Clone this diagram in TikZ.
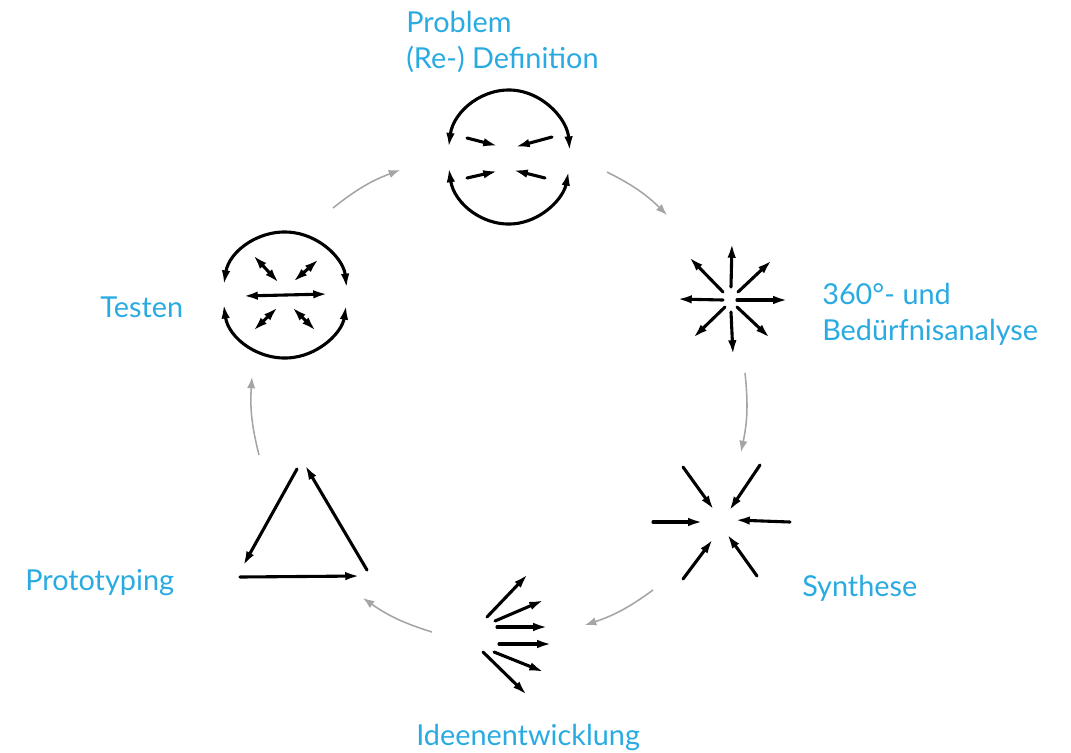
\documentclass[tikz,border=0pt]{standalone}
\usepackage{fontspec}
\setmainfont{Lato}
\usetikzlibrary{arrows.meta}
\usetikzlibrary{positioning}
\definecolor{labelblue}{RGB}{41,171,226}
\definecolor{cyclegrey}{RGB}{165,165,165}

\begin{document}
\begin{tikzpicture}[x=0.025cm, y=0.025cm,
        >={Latex[length=10.5pt,width=6pt]},
        sketch/.style={line width=2.2pt, line cap=round},
        cycle/.style={cyclegrey, line width=1.1pt, -{Latex[length=8pt,width=6pt]}},
        phase/.style={labelblue, inner sep=0pt, align=left, anchor=base west,
            font=\fontsize{20.5}{25}\selectfont}]
            \useasboundingbox (0,0) rectangle (1071,-752);

            % labels
            \node[phase] (problem) at (406,-68) {Problem\\(Re-) Definition};
            \node[phase] (analyse) at (822,-340) {360°- und\\Bedürfnisanalyse};
            \node[phase] (synthese) at (802,-596) {Synthese};
            \node[phase] (ideen) at (416,-745) {Ideenentwicklung};
            \node[phase] (proto) at (25,-590) {Prototyping};
            \node[phase] (testen) at (100,-317) {Testen};

            % problem (re-) definition
            \draw[sketch,<->] (509,-157) ++(172:61 and 67) arc[start angle=172, end angle=5, x radius=61, y radius=67];
            \draw[sketch,<->] (509,-157) ++(189:61 and 67) arc[start angle=189, end angle=348, x radius=61, y radius=67];
            \foreach \ax/\ay/\bx/\by in {467/138/498/146, 552/137/515/147,
                                         467/178/498/171, 545/178/513/170}
                {\draw[sketch,->] (\ax,-\ay) -- (\bx,-\by);}

            % 360 und beduerfnisanalyse
            \foreach \ax/\ay/\bx/\by in {731/287/732/243, 738/292/772/260,
                                         737/300/788/300, 737/307/770/338,
                                         731/312/733/355, 725/307/693/338,
                                         723/300/677/299, 723/292/689/257}
                {\draw[sketch,->] (\ax,-\ay) -- (\bx,-\by);}

            % synthese
            \foreach \ax/\ay/\bx/\by in {683/467/714/510, 760/465/729/511,
                                         653/522/703/522, 790/522/735/520,
                                         683/579/713/539, 757/576/727/534}
                {\draw[sketch,->] (\ax,-\ay) -- (\bx,-\by);}

            % ideenentwicklung
            \foreach \ax/\ay/\bx/\by in {487/617/528/574, 495/621/544/600,
                                         497/627/548/627, 499/644/552/644,
                                         494/652/544/672, 483/652/527/695}
                {\draw[sketch,->] (\ax,-\ay) -- (\bx,-\by);}

            % prototyping
            \foreach \ax/\ay/\bx/\by in {297/469/243/566, 367/570/305/465,
                                         240/577/360/576}
                {\draw[sketch,->] (\ax,-\ay) -- (\bx,-\by);}

            % testen
            \draw[sketch,<->] (285,-295) ++(171:62 and 63) arc[start angle=171, end angle=6, x radius=62, y radius=63];
            \draw[sketch,<->] (285,-295) ++(188:62 and 63) arc[start angle=188, end angle=351, x radius=62, y radius=63];
            \foreach \ax/\ay/\bx/\by in {243/296/328/294, 253/255/279/283,
                                         319/259/293/282, 253/331/278/307,
                                         316/331/292/307}
                {\draw[sketch,<->] (\ax,-\ay) -- (\bx,-\by);}

            % cycle
            \coordinate (p1) at (607,-172); \coordinate (q1) at (667,-215);
            \coordinate (p2) at (745,-373); \coordinate (q2) at (741,-452);
            \coordinate (p3) at (653,-590); \coordinate (q3) at (585,-625);
            \coordinate (p4) at (432,-632); \coordinate (q4) at (363,-598);
            \coordinate (p5) at (259,-455); \coordinate (q5) at (252,-377);
            \coordinate (p6) at (333,-208); \coordinate (q6) at (400,-170);
            \foreach \n in {1,...,6}
                {\draw[cycle] (p\n) to[bend left=9] (q\n);}
        \end{tikzpicture}
\end{document}
